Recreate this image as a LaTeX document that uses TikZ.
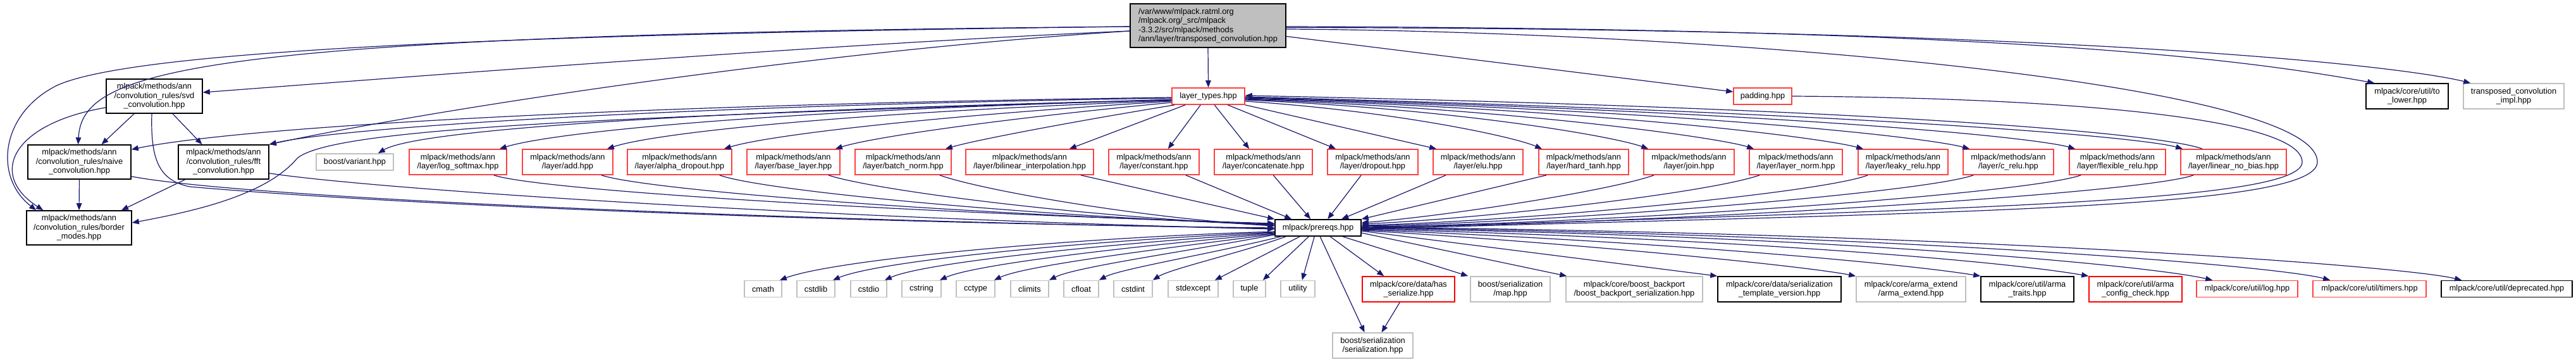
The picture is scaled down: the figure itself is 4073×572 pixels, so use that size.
\documentclass[tikz,border=0pt]{standalone}
\usepackage{fontspec}
\setmainfont{Liberation Sans}
\usetikzlibrary{arrows.meta}
\definecolor{edgec}{HTML}{191970}
\definecolor{redc}{HTML}{FF4040}
\definecolor{redd}{HTML}{FF0000}
\definecolor{greyc}{HTML}{BFBFBF}
\newcommand\mknode[7]{\node[#6, minimum width=#4pt, minimum height=#5pt] (#1) at (#2,-#3) {#7};}
\begin{document}
\begin{tikzpicture}[x=1pt,y=1pt,
  box/.style={draw, line width=1.6pt, inner sep=0pt, align=center, font=\fontsize{12.8}{14.5}\selectfont, fill=white},
  kbox/.style={box, draw=black},
  rbox/.style={box, draw=redc},
  rdbox/.style={box, draw=redd},
  gbox/.style={box, draw=greyc},
  dep/.style={draw=edgec, line width=1.2pt, -{Triangle[length=11pt,width=8.5pt]}}]
\fill[white] (0,0) rectangle (4073,-572);
\useasboundingbox (0,0) rectangle (4073,-572);

% nodes
\mknode{root}{1910}{40.5}{246}{69}{kbox, fill=greyc, align=left}{/var/www/mlpack.ratml.org\\/mlpack.org/\_src/mlpack\\-3.3.2/src/mlpack/methods\\/ann/layer/transposed\_convolution.hpp}
\mknode{svd}{244}{152}{152}{54}{kbox}{mlpack/methods/ann\\/convolution\_rules/svd\\\_convolution.hpp}
\mknode{naive}{125.5}{256}{163}{54}{kbox}{mlpack/methods/ann\\/convolution\_rules/naive\\\_convolution.hpp}
\mknode{fft}{353.5}{256}{143}{54}{kbox}{mlpack/methods/ann\\/convolution\_rules/fft\\\_convolution.hpp}
\mknode{border}{125}{360}{166}{54}{kbox}{mlpack/methods/ann\\/convolution\_rules/border\\\_modes.hpp}
\mknode{variant}{561}{256}{122}{26}{gbox}{boost/variant.hpp}
\mknode{logsoftmax}{724}{256}{154}{40}{rbox}{mlpack/methods/ann\\/layer/log\_softmax.hpp}
\mknode{add}{897.5}{256}{143}{40}{rbox}{mlpack/methods/ann\\/layer/add.hpp}
\mknode{alphadrop}{1074.5}{256}{165}{40}{rbox}{mlpack/methods/ann\\/layer/alpha\_dropout.hpp}
\mknode{baselayer}{1254.5}{256}{147}{40}{rbox}{mlpack/methods/ann\\/layer/base\_layer.hpp}
\mknode{batchnorm}{1428}{256}{152}{40}{rbox}{mlpack/methods/ann\\/layer/batch\_norm.hpp}
\mknode{bilinear}{1628}{256}{202}{40}{rbox}{mlpack/methods/ann\\/layer/bilinear\_interpolation.hpp}
\mknode{constant}{1824.5}{256}{143}{40}{rbox}{mlpack/methods/ann\\/layer/constant.hpp}
\mknode{concat}{1997.5}{256}{155}{40}{rbox}{mlpack/methods/ann\\/layer/concatenate.hpp}
\mknode{dropout}{2170.5}{256}{143}{40}{rbox}{mlpack/methods/ann\\/layer/dropout.hpp}
\mknode{elu}{2337}{256}{142}{40}{rbox}{mlpack/methods/ann\\/layer/elu.hpp}
\mknode{hardtanh}{2504}{256}{142}{40}{rbox}{mlpack/methods/ann\\/layer/hard\_tanh.hpp}
\mknode{join}{2670.5}{256}{143}{40}{rbox}{mlpack/methods/ann\\/layer/join.hpp}
\mknode{layernorm}{2839.5}{256}{147}{40}{rbox}{mlpack/methods/ann\\/layer/layer\_norm.hpp}
\mknode{leaky}{3009}{256}{142}{40}{rbox}{mlpack/methods/ann\\/layer/leaky\_relu.hpp}
\mknode{crelu}{3175.5}{256}{143}{40}{rbox}{mlpack/methods/ann\\/layer/c\_relu.hpp}
\mknode{flexrelu}{3348}{256}{152}{40}{rbox}{mlpack/methods/ann\\/layer/flexible\_relu.hpp}
\mknode{linnobias}{3531.5}{256}{167}{40}{rbox}{mlpack/methods/ann\\/layer/linear\_no\_bias.hpp}
\mknode{layertypes}{1910.5}{152}{115}{26}{rbox}{layer\_types.hpp}
\mknode{padding}{2787}{152}{92}{26}{rbox}{padding.hpp}
\mknode{tolower}{3806}{152}{130}{40}{kbox}{mlpack/core/util/to\\\_lower.hpp}
\mknode{impl}{3974.5}{152}{159}{40}{gbox}{transposed\_convolution\\\_impl.hpp}
\mknode{prereqs}{2084}{360}{136}{26}{kbox}{mlpack/prereqs.hpp}
\mknode{cmath}{1206.5}{456.5}{59}{26}{gbox}{cmath}
\mknode{cstdlib}{1290}{456.5}{60}{26}{gbox}{cstdlib}
\mknode{cstdio}{1373.5}{456.5}{57}{26}{gbox}{cstdio}
\mknode{cstring}{1457}{456.5}{62}{26}{gbox}{cstring}
\mknode{cctype}{1542.5}{456.5}{61}{26}{gbox}{cctype}
\mknode{climits}{1628}{456.5}{60}{26}{gbox}{climits}
\mknode{cfloat}{1709.5}{456.5}{55}{26}{gbox}{cfloat}
\mknode{cstdint}{1791.5}{456.5}{61}{26}{gbox}{cstdint}
\mknode{stdexcept}{1886.5}{456.5}{79}{26}{gbox}{stdexcept}
\mknode{tuple}{1975.5}{456.5}{51}{26}{gbox}{tuple}
\mknode{utility}{2052}{456.5}{54}{26}{gbox}{utility}
\mknode{hasser}{2227}{457}{146}{40}{rdbox}{mlpack/core/data/has\\\_serialize.hpp}
\mknode{map}{2388}{457}{126}{40}{gbox}{boost/serialization\\/map.hpp}
\mknode{backport}{2584}{457}{216}{40}{gbox}{mlpack/core/boost\_backport\\/boost\_backport\_serialization.hpp}
\mknode{tplver}{2813.5}{457}{195}{40}{kbox}{mlpack/core/data/serialization\\\_template\_version.hpp}
\mknode{armaext}{3021.5}{457}{173}{40}{gbox}{mlpack/core/arma\_extend\\/arma\_extend.hpp}
\mknode{armatraits}{3205.5}{457}{147}{40}{kbox}{mlpack/core/util/arma\\\_traits.hpp}
\mknode{cfgcheck}{3376.5}{457}{147}{40}{rdbox}{mlpack/core/util/arma\\\_config\_check.hpp}
\mknode{logh}{3553}{456.5}{160}{26}{rbox}{mlpack/core/util/log.hpp}
\mknode{timers}{3746.5}{456.5}{179}{26}{rbox}{mlpack/core/util/timers.hpp}
\mknode{deprecated}{3963.5}{456.5}{207}{26}{kbox}{mlpack/core/util/deprecated.hpp}
\mknode{serial}{2170.5}{546}{127}{40}{gbox}{boost/serialization\\/serialization.hpp}

% root edges
\draw[dep] (root.south) -- (layertypes.north);
\draw[dep] ([yshift=-8.5pt]root.west) .. controls (1300,-70) and (600,-125) .. ([yshift=6pt]svd.east);
\draw[dep] ([yshift=-8.5pt]root.west) .. controls (1300,-80) and (700,-170) .. (fft.north east);
\draw[dep] ([yshift=-1.5pt]root.west) .. controls (300,-55) and (130,-110) .. ([xshift=-2pt]naive.north);
\draw[dep] ([yshift=-1.5pt]root.west) .. controls (700,-55) and (200,-85) .. (90,-135) .. controls (0,-180) and (-10,-280) .. ([xshift=16pt]border.north west);
\draw[dep] ([yshift=-17pt]root.east) -- ([yshift=7pt]padding.west);
\draw[dep] ([yshift=-1.5pt]root.east) .. controls (3200,-45) and (3550,-95) .. ([xshift=14pt]tolower.north west);
\draw[dep] ([yshift=-3pt]root.east) .. controls (3300,-45) and (3800,-105) .. ([xshift=12pt]impl.north west);
\draw[dep] ([yshift=-5.5pt]root.east) .. controls (2700,-50) and (3664,-130) .. (3664,-256) .. controls (3664,-330) and (3100,-335) .. ([yshift=-2pt]prereqs.east);
\draw[dep] (padding.east) .. controls (3300,-155) and (3640,-190) .. (3640,-256) .. controls (3640,-320) and (3100,-330) .. ([yshift=-1pt]prereqs.east);

% svd / conv edges
\draw[dep] ([yshift=-18pt]svd.west) .. controls (20,-195) and (-20,-275) .. ([xshift=27pt]border.north west);
\draw[dep] ([xshift=-32pt]svd.south) -- ([xshift=35pt]naive.north);
\draw[dep] ([xshift=29pt]svd.south) -- ([xshift=-34pt]fft.north);
\draw[dep] (naive.south) -- (border.north);
\draw[dep] ([xshift=-61pt]fft.south) -- ([xshift=67pt]border.north);
\draw[dep] ([xshift=-4pt]svd.south) .. controls (238,-250) and (250,-285) .. (300,-295) .. controls (700,-330) and (1500,-355) .. ([yshift=0pt]prereqs.west);
\draw[dep] ([yshift=5pt]naive.south east) .. controls (400,-315) and (1300,-350) .. ([yshift=-1pt]prereqs.west);
\draw[dep] ([yshift=10pt]fft.south east) .. controls (600,-300) and (1300,-345) .. ([yshift=-2pt]prereqs.west);

% layer_types edges (left)
\draw[dep] ([yshift=-2pt]layertypes.west) .. controls (1000,-165) and (380,-200) .. ([yshift=-8pt]naive.north east);
\draw[dep] ([yshift=-3pt]layertypes.west) .. controls (1000,-168) and (520,-205) .. (fft.north east);
\draw[dep] ([yshift=-5pt]layertypes.west) .. controls (1000,-185) and (530,-200) .. (470,-250) .. controls (420,-310) and (300,-335) .. ([yshift=8pt]border.east);
\draw[dep] ([yshift=-6pt]layertypes.west) .. controls (1100,-175) and (660,-205) .. ([xshift=-25pt]variant.north east);
\draw[dep] ([yshift=-6pt]layertypes.west) .. controls (1200,-175) and (870,-210) .. ([xshift=-12pt]logsoftmax.north east);
\draw[dep] ([yshift=-7pt]layertypes.west) .. controls (1300,-180) and (1030,-212) .. ([xshift=-10pt]add.north east);
\draw[dep] ([yshift=-8pt]layertypes.west) .. controls (1450,-185) and (1210,-215) .. ([xshift=-13pt]alphadrop.north east);
\draw[dep] ([yshift=-10pt]layertypes.west) .. controls (1560,-190) and (1375,-218) .. ([xshift=-8pt]baselayer.north east);
\draw[dep] ([xshift=5pt]layertypes.south west) .. controls (1680,-195) and (1540,-222) .. ([xshift=-10pt]batchnorm.north east);
\draw[dep] ([xshift=22pt]layertypes.south west) -- ([xshift=-39pt]bilinear.north east);
\draw[dep] ([xshift=46pt]layertypes.south west) -- ([xshift=-50pt]constant.north east);
\draw[dep] ([xshift=68pt]layertypes.south west) -- ([xshift=56pt]concat.north west);
\draw[dep] ([xshift=89pt]layertypes.south west) -- ([xshift=14pt]dropout.north west);
% layer_types edges (right)
\draw[dep] (layertypes.south east) -- ([xshift=6pt]elu.north west);
\draw[dep] ([yshift=-8pt]layertypes.east) .. controls (2200,-175) and (2390,-215) .. ([xshift=6pt]hardtanh.north west);
\draw[dep] ([yshift=-6pt]layertypes.east) .. controls (2300,-172) and (2550,-215) .. ([xshift=8pt]join.north west);
\draw[dep] ([yshift=-5pt]layertypes.east) .. controls (2400,-172) and (2720,-218) .. ([xshift=8pt]layernorm.north west);
\draw[dep] ([yshift=-4pt]layertypes.east) .. controls (2550,-174) and (2880,-218) .. ([xshift=9pt]leaky.north west);
\draw[dep] ([yshift=-3pt]layertypes.east) .. controls (2700,-176) and (3050,-218) .. ([xshift=11pt]crelu.north west);
\draw[dep] ([yshift=-2pt]layertypes.east) .. controls (2850,-178) and (3220,-218) .. ([xshift=10pt]flexrelu.north west);
\draw[dep] ([yshift=-1pt]layertypes.east) .. controls (3000,-180) and (3390,-218) .. ([xshift=4pt]linnobias.north west);
\draw[dep] ([xshift=35pt]linnobias.north west) .. controls (3420,-212) and (3000,-172) .. ([yshift=1pt]layertypes.east);

% layers -> prereqs
\draw[dep] ([xshift=-21pt]logsoftmax.south east) .. controls (850,-300) and (1400,-335) .. ([yshift=7pt]prereqs.west);
\draw[dep] ([xshift=-19pt]add.south east) .. controls (1020,-300) and (1500,-338) .. ([yshift=6pt]prereqs.west);
\draw[dep] ([xshift=-20pt]alphadrop.south east) .. controls (1200,-300) and (1600,-340) .. ([yshift=5pt]prereqs.west);
\draw[dep] ([xshift=-19pt]baselayer.south east) .. controls (1380,-300) and (1700,-342) .. ([yshift=4pt]prereqs.west);
\draw[dep] ([xshift=-19pt]batchnorm.south east) .. controls (1550,-300) and (1800,-344) .. ([yshift=3pt]prereqs.west);
\draw[dep] ([xshift=-21pt]bilinear.south east) -- (prereqs.north west);
\draw[dep] ([xshift=-22pt]constant.south east) -- ([xshift=27pt]prereqs.north west);
\draw[dep] ([xshift=94pt]concat.south west) -- ([xshift=57pt]prereqs.north west);
\draw[dep] ([xshift=54pt]dropout.south west) -- ([xshift=84pt]prereqs.north west);
\draw[dep] ([xshift=21pt]elu.south west) -- ([xshift=106pt]prereqs.north west);
\draw[dep] ([xshift=13pt]hardtanh.south west) -- (prereqs.north east);
\draw[dep] ([xshift=17pt]join.south west) .. controls (2550,-300) and (2300,-340) .. ([yshift=8pt]prereqs.east);
\draw[dep] ([xshift=17pt]layernorm.south west) .. controls (2700,-305) and (2350,-345) .. ([yshift=6pt]prereqs.east);
\draw[dep] ([xshift=16pt]leaky.south west) .. controls (2880,-305) and (2400,-350) .. ([yshift=4pt]prereqs.east);
\draw[dep] ([xshift=17pt]crelu.south west) .. controls (3040,-305) and (2450,-352) .. ([yshift=3pt]prereqs.east);
\draw[dep] ([xshift=19pt]flexrelu.south west) .. controls (3200,-308) and (2500,-355) .. ([yshift=2pt]prereqs.east);
\draw[dep] ([xshift=21pt]linnobias.south west) .. controls (3380,-308) and (2550,-356) .. ([yshift=1pt]prereqs.east);

% prereqs -> bottom
\draw[dep] ([yshift=-6pt]prereqs.west) .. controls (1700,-375) and (1320,-410) .. ([xshift=-4pt]cmath.north east);
\draw[dep] ([yshift=-7pt]prereqs.west) .. controls (1720,-380) and (1390,-412) .. ([xshift=-4pt]cstdlib.north east);
\draw[dep] ([yshift=-8pt]prereqs.west) .. controls (1750,-385) and (1460,-415) .. ([xshift=-4pt]cstdio.north east);
\draw[dep] ([yshift=-9pt]prereqs.west) .. controls (1780,-390) and (1540,-418) .. ([xshift=-3pt]cstring.north east);
\draw[dep] ([yshift=-10pt]prereqs.west) .. controls (1820,-395) and (1620,-420) .. ([xshift=-2pt]cctype.north east);
\draw[dep] ([yshift=-11pt]prereqs.west) .. controls (1860,-400) and (1700,-422) .. (climits.north east);
\draw[dep] ([xshift=10pt]prereqs.south west) .. controls (1920,-400) and (1770,-425) .. (cfloat.north east);
\draw[dep] ([xshift=18pt]prereqs.south west) .. controls (1960,-400) and (1850,-425) .. (cstdint.north east);
\draw[dep] ([xshift=40pt]prereqs.south west) -- ([xshift=-6pt]stdexcept.north east);
\draw[dep] ([xshift=54pt]prereqs.south west) -- ([xshift=-5pt]tuple.north east);
\draw[dep] ([xshift=63pt]prereqs.south west) -- ([xshift=-21pt]utility.north east);
\draw[dep] ([xshift=72pt]prereqs.south west) -- ([xshift=-13pt]serial.north);
\draw[dep] ([xshift=88pt]prereqs.south west) -- ([xshift=35pt]hasser.north west);
\draw[dep] ([xshift=-30pt]prereqs.south east) -- ([xshift=-3pt]map.north west);
\draw[dep] ([yshift=-8pt]prereqs.east) -- ([xshift=2pt]backport.north west);
\draw[dep] ([yshift=-5pt]prereqs.east) -- (tplver.north west);
\draw[dep] ([yshift=-4pt]prereqs.east) .. controls (2500,-385) and (2850,-420) .. (armaext.north west);
\draw[dep] ([yshift=-3pt]prereqs.east) .. controls (2600,-380) and (3000,-415) .. (armatraits.north west);
\draw[dep] ([yshift=-2pt]prereqs.east) .. controls (2700,-375) and (3150,-410) .. (cfgcheck.north west);
\draw[dep] ([yshift=-1pt]prereqs.east) .. controls (2900,-372) and (3400,-420) .. ([xshift=26pt]logh.north west);
\draw[dep] (prereqs.east) .. controls (3000,-370) and (3600,-420) .. ([xshift=28pt]timers.north west);
\draw[dep] ([yshift=1pt]prereqs.east) .. controls (3100,-368) and (3800,-420) .. ([xshift=33pt]deprecated.north west);
\draw[dep] ([xshift=60pt]hasser.south west) -- ([xshift=14pt]serial.north);
\end{tikzpicture}
\end{document}
